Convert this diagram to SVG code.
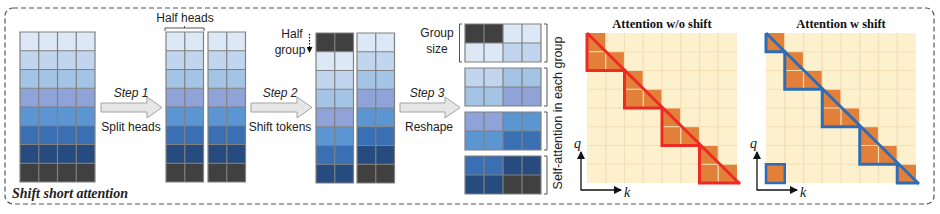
<svg xmlns="http://www.w3.org/2000/svg" width="940" height="214" viewBox="0 0 940 214">
<defs>
<style>
.c1{fill:#dce8f6}.c2{fill:#c1d6ee}.c3{fill:#a4c4e6}.c4{fill:#8fa3d9}.c5{fill:#5b95d2}.c6{fill:#3b6fb3}.c7{fill:#264b7e}.c8{fill:#404040}
.gl{stroke:#808080;stroke-width:1.2;fill:none}
.bg{fill:#fdf0cd}
.al{stroke:#f3dfb6;stroke-width:1.2;fill:none}
.or{fill:#e2803a}
.lbl{font-family:"Liberation Sans",Arial,sans-serif;font-size:12px;fill:#222}
.it{font-style:italic}
.ttl{font-family:"Liberation Serif","Times New Roman",serif;font-weight:bold;font-size:12.5px;fill:#111}
.ax{font-family:"Liberation Serif","Times New Roman",serif;font-style:italic;font-size:14px;fill:#111}
.barrow{fill:#e6e6e6;stroke:#a3a3a3;stroke-width:1}
.br{stroke:#555;stroke-width:1;fill:none}
.axl{stroke:#111;stroke-width:1.3;fill:none}
</style>
<marker id="ah" markerWidth="8" markerHeight="8" refX="7" refY="4" orient="auto" markerUnits="userSpaceOnUse">
<path d="M0,0 L8,4 L0,8 z" fill="#111"/>
</marker>
<marker id="ahs" markerWidth="6" markerHeight="6" refX="5" refY="3" orient="auto" markerUnits="userSpaceOnUse">
<path d="M0,0 L6,3 L0,6 z" fill="#111"/>
</marker>
</defs>

<rect x="5" y="8" width="929" height="196" rx="8" fill="#fff" stroke="#555" stroke-width="1.2" stroke-dasharray="5,3"/>

<g id="grid-input">
<rect class="c1" x="20" y="32" width="75" height="18.75"/>
<rect class="c2" x="20" y="50.75" width="75" height="18.75"/>
<rect class="c3" x="20" y="69.5" width="75" height="18.75"/>
<rect class="c4" x="20" y="88.25" width="75" height="18.75"/>
<rect class="c5" x="20" y="107" width="75" height="18.75"/>
<rect class="c6" x="20" y="125.75" width="75" height="18.75"/>
<rect class="c7" x="20" y="144.5" width="75" height="18.75"/>
<rect class="c8" x="20" y="163.25" width="75" height="18.75"/>
<path class="gl" d="M20,32H95V182H20Z M38.75,32V182 M57.5,32V182 M76.25,32V182 M20,50.75H95 M20,69.5H95 M20,88.25H95 M20,107H95 M20,125.75H95 M20,144.5H95 M20,163.25H95"/>
<text class="lbl" x="12" y="198" style="font-family:'Liberation Serif','Times New Roman',serif;font-weight:bold;font-style:italic;font-size:14px">Shift short attention</text>
</g>

<g id="step1">
<polygon class="barrow" points="101,103 147,103 147,97 162,107.5 147,118 147,112 101,112"/>
<text class="lbl it" x="131" y="97" text-anchor="middle">Step 1</text>
<text class="lbl" x="131" y="131" text-anchor="middle">Split heads</text>
</g>

<g id="grid-split">
<g>
<rect class="c1" x="166" y="32" width="37.5" height="18.75"/>
<rect class="c2" x="166" y="50.75" width="37.5" height="18.75"/>
<rect class="c3" x="166" y="69.5" width="37.5" height="18.75"/>
<rect class="c4" x="166" y="88.25" width="37.5" height="18.75"/>
<rect class="c5" x="166" y="107" width="37.5" height="18.75"/>
<rect class="c6" x="166" y="125.75" width="37.5" height="18.75"/>
<rect class="c7" x="166" y="144.5" width="37.5" height="18.75"/>
<rect class="c8" x="166" y="163.25" width="37.5" height="18.75"/>
<path class="gl" d="M166,32H203.5V182H166Z M184.75,32V182 M166,50.75H203.5 M166,69.5H203.5 M166,88.25H203.5 M166,107H203.5 M166,125.75H203.5 M166,144.5H203.5 M166,163.25H203.5"/>
</g>
<g>
<rect class="c1" x="208" y="32" width="37.5" height="18.75"/>
<rect class="c2" x="208" y="50.75" width="37.5" height="18.75"/>
<rect class="c3" x="208" y="69.5" width="37.5" height="18.75"/>
<rect class="c4" x="208" y="88.25" width="37.5" height="18.75"/>
<rect class="c5" x="208" y="107" width="37.5" height="18.75"/>
<rect class="c6" x="208" y="125.75" width="37.5" height="18.75"/>
<rect class="c7" x="208" y="144.5" width="37.5" height="18.75"/>
<rect class="c8" x="208" y="163.25" width="37.5" height="18.75"/>
<path class="gl" d="M208,32H245.5V182H208Z M226.75,32V182 M208,50.75H245.5 M208,69.5H245.5 M208,88.25H245.5 M208,107H245.5 M208,125.75H245.5 M208,144.5H245.5 M208,163.25H245.5"/>
</g>
<path class="br" d="M165,31 V28 H204 V31 M184.5,28 V26"/>
<text class="lbl" x="185" y="22" text-anchor="middle">Half heads</text>
</g>

<g id="step2">
<polygon class="barrow" points="251,103 297,103 297,97 312,107.5 297,118 297,112 251,112"/>
<text class="lbl it" x="280" y="97" text-anchor="middle">Step 2</text>
<text class="lbl" x="280" y="131" text-anchor="middle">Shift tokens</text>
</g>

<g id="grid-shift">
<g>
<rect class="c8" x="316" y="33" width="37.5" height="18.75"/>
<rect class="c1" x="316" y="51.75" width="37.5" height="18.75"/>
<rect class="c2" x="316" y="70.5" width="37.5" height="18.75"/>
<rect class="c3" x="316" y="89.25" width="37.5" height="18.75"/>
<rect class="c4" x="316" y="108" width="37.5" height="18.75"/>
<rect class="c5" x="316" y="126.75" width="37.5" height="18.75"/>
<rect class="c6" x="316" y="145.5" width="37.5" height="18.75"/>
<rect class="c7" x="316" y="164.25" width="37.5" height="18.75"/>
<path class="gl" d="M316,33H353.5V183H316Z M334.75,33V183 M316,51.75H353.5 M316,70.5H353.5 M316,89.25H353.5 M316,108H353.5 M316,126.75H353.5 M316,145.5H353.5 M316,164.25H353.5"/>
</g>
<g>
<rect class="c1" x="357" y="33" width="37.5" height="18.75"/>
<rect class="c2" x="357" y="51.75" width="37.5" height="18.75"/>
<rect class="c3" x="357" y="70.5" width="37.5" height="18.75"/>
<rect class="c4" x="357" y="89.25" width="37.5" height="18.75"/>
<rect class="c5" x="357" y="108" width="37.5" height="18.75"/>
<rect class="c6" x="357" y="126.75" width="37.5" height="18.75"/>
<rect class="c7" x="357" y="145.5" width="37.5" height="18.75"/>
<rect class="c8" x="357" y="164.25" width="37.5" height="18.75"/>
<path class="gl" d="M357,33H394.5V183H357Z M375.75,33V183 M357,51.75H394.5 M357,70.5H394.5 M357,89.25H394.5 M357,108H394.5 M357,126.75H394.5 M357,145.5H394.5 M357,164.25H394.5"/>
</g>
<text class="lbl" x="292" y="38" text-anchor="middle">Half</text>
<text class="lbl" x="290" y="54" text-anchor="middle">group</text>
<line x1="309.5" y1="34" x2="309.5" y2="52" stroke="#111" stroke-width="1.2" stroke-dasharray="1.5,1.5" marker-end="url(#ahs)"/>
</g>

<g id="step3">
<polygon class="barrow" points="400,103 445,103 445,97 460,107.5 445,118 445,112 400,112"/>
<text class="lbl it" x="427" y="97" text-anchor="middle">Step 3</text>
<text class="lbl" x="429" y="131" text-anchor="middle">Reshape</text>
</g>

<g id="grid-reshape">
<g>
<rect class="c8" x="465" y="24" width="38" height="19"/><rect class="c1" x="503" y="24" width="38" height="19"/>
<rect class="c1" x="465" y="43" width="38" height="19"/><rect class="c2" x="503" y="43" width="38" height="19"/>
<path class="gl" d="M465,24H541V62H465Z M484,24V62 M503,24V62 M522,24V62 M465,43H541"/>
</g>
<g>
<rect class="c2" x="465" y="68" width="38" height="19"/><rect class="c3" x="503" y="68" width="38" height="19"/>
<rect class="c3" x="465" y="87" width="38" height="19"/><rect class="c4" x="503" y="87" width="38" height="19"/>
<path class="gl" d="M465,68H541V106H465Z M484,68V106 M503,68V106 M522,68V106 M465,87H541"/>
</g>
<g>
<rect class="c4" x="465" y="112" width="38" height="19"/><rect class="c5" x="503" y="112" width="38" height="19"/>
<rect class="c5" x="465" y="131" width="38" height="19"/><rect class="c6" x="503" y="131" width="38" height="19"/>
<path class="gl" d="M465,112H541V150H465Z M484,112V150 M503,112V150 M522,112V150 M465,131H541"/>
</g>
<g>
<rect class="c6" x="465" y="156" width="38" height="19"/><rect class="c7" x="503" y="156" width="38" height="19"/>
<rect class="c7" x="465" y="175" width="38" height="19"/><rect class="c8" x="503" y="175" width="38" height="19"/>
<path class="gl" d="M465,156H541V194H465Z M484,156V194 M503,156V194 M522,156V194 M465,175H541"/>
</g>
<path class="br" d="M462,24 H459.5 V62 H462"/>
<path class="br" d="M544,24 H547 V62 H544 M544,68 H547 V106 H544 M544,112 H547 V150 H544 M544,156 H547 V194 H544"/>
<text class="lbl" x="437" y="37" text-anchor="middle">Group</text>
<text class="lbl" x="437" y="53" text-anchor="middle">size</text>
<text class="lbl" transform="translate(562,113) rotate(-90)" text-anchor="middle" style="font-size:12.5px">Self-attention in each group</text>
</g>

<g id="attn-noshift">
<rect class="bg" x="587" y="33" width="150" height="150"/>
<rect class="or" x="587" y="33" width="18.75" height="18.75"/>
<rect class="or" x="587" y="51.75" width="37.5" height="18.75"/>
<rect class="or" x="624.5" y="70.5" width="18.75" height="18.75"/>
<rect class="or" x="624.5" y="89.25" width="37.5" height="18.75"/>
<rect class="or" x="662" y="108" width="18.75" height="18.75"/>
<rect class="or" x="662" y="126.75" width="37.5" height="18.75"/>
<rect class="or" x="699.5" y="145.5" width="18.75" height="18.75"/>
<rect class="or" x="699.5" y="164.25" width="37.5" height="18.75"/>
<path class="al" d="M605.75,33V183 M624.5,33V183 M643.25,33V183 M662,33V183 M680.75,33V183 M699.5,33V183 M718.25,33V183 M587,51.75H737 M587,70.5H737 M587,89.25H737 M587,108H737 M587,126.75H737 M587,145.5H737 M587,164.25H737"/>
<path d="M587,33 L587,70.5 L624.5,70.5 L624.5,108 L662,108 L662,145.5 L699.5,145.5 L699.5,183 L740,183 M587,33 L740,184" stroke="#ee2a24" stroke-width="3" fill="none" stroke-linejoin="miter"/>
<text class="ttl" x="662" y="28" text-anchor="middle">Attention w/o shift</text>
<path class="axl" d="M581,190 V152" marker-end="url(#ah)"/>
<path class="axl" d="M580.5,190 H621" marker-end="url(#ah)"/>
<text class="ax" x="574" y="148">q</text>
<text class="ax" x="624" y="197">k</text>
</g>

<g id="attn-shift">
<rect class="bg" x="766" y="33" width="150" height="150"/>
<rect class="or" x="766" y="33" width="18.75" height="18.75"/>
<rect class="or" x="784.75" y="51.75" width="18.75" height="18.75"/>
<rect class="or" x="784.75" y="70.5" width="37.5" height="18.75"/>
<rect class="or" x="822.25" y="89.25" width="18.75" height="18.75"/>
<rect class="or" x="822.25" y="108" width="37.5" height="18.75"/>
<rect class="or" x="859.75" y="126.75" width="18.75" height="18.75"/>
<rect class="or" x="859.75" y="145.5" width="37.5" height="18.75"/>
<rect class="or" x="897.25" y="164.25" width="18.75" height="18.75"/>
<rect class="or" x="766" y="164.25" width="18.75" height="18.75"/>
<path class="al" d="M784.75,33V183 M803.5,33V183 M822.25,33V183 M841,33V183 M859.75,33V183 M878.5,33V183 M897.25,33V183 M766,51.75H916 M766,70.5H916 M766,89.25H916 M766,108H916 M766,126.75H916 M766,145.5H916 M766,164.25H916"/>
<path d="M766,33 L766,51.75 L784.75,51.75 L784.75,89.25 L822.25,89.25 L822.25,126.75 L859.75,126.75 L859.75,164.25 L897.25,164.25 L897.25,183 L919,183 M766,33 L919,184" stroke="#2e6db5" stroke-width="3" fill="none"/>
<rect x="766" y="164.25" width="18.75" height="18.75" fill="none" stroke="#2e6db5" stroke-width="2.5"/>
<text class="ttl" x="841" y="28" text-anchor="middle">Attention w shift</text>
<path class="axl" d="M757,190 V152" marker-end="url(#ah)"/>
<path class="axl" d="M756.5,190 H797" marker-end="url(#ah)"/>
<text class="ax" x="750" y="148">q</text>
<text class="ax" x="800" y="197">k</text>
</g>
</svg>
